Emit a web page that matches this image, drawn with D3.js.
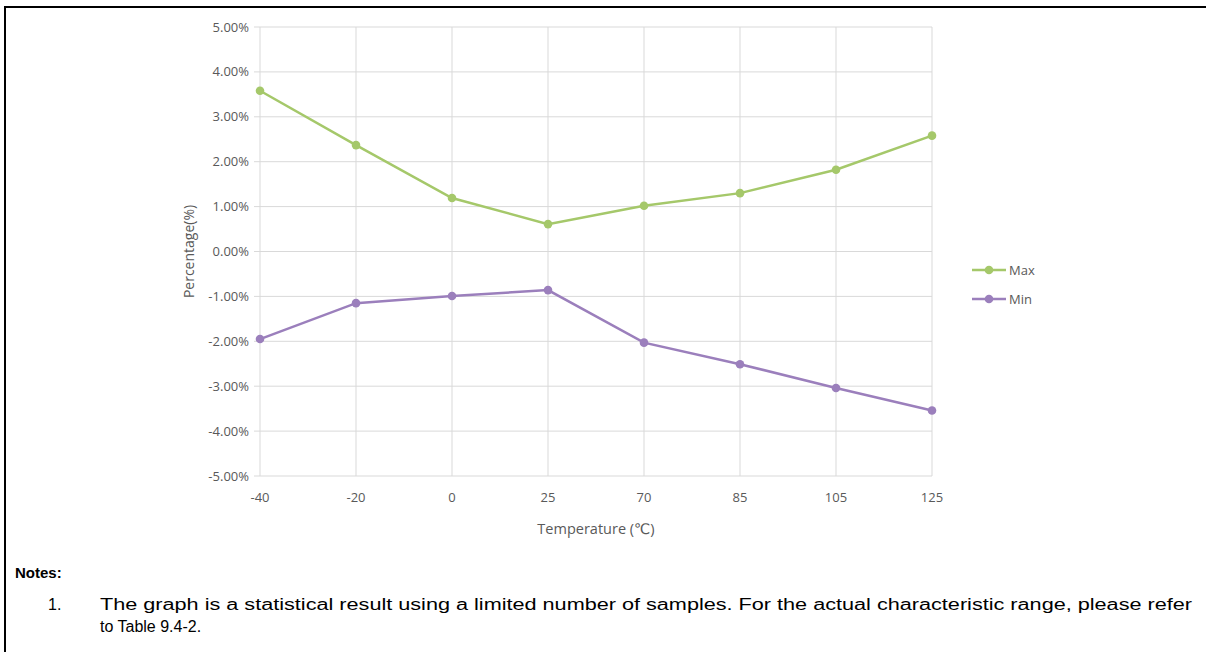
<!DOCTYPE html>
<html>
<head>
<meta charset="utf-8">
<script src="https://cdn.jsdelivr.net/npm/d3@7"></script>
<style>
    body { margin: 0; background: #fff; }
    svg { display: block; }
</style>
</head>
<body>
<script>
var temperatures = ["-40", "-20", "0", "25", "70", "85", "105", "125"];
var maxValues = [3.58, 2.37, 1.19, 0.61, 1.02, 1.30, 1.82, 2.58];
var minValues = [-1.95, -1.15, -0.99, -0.86, -2.03, -2.51, -3.04, -3.54];
var yTicks = [5, 4, 3, 2, 1, 0, -1, -2, -3, -4, -5];
var seriesNames = ["Max", "Min"];
var seriesColors = ["#a5c86a", "#9b7fbc"];

var width = 1206, height = 652;
var font = "'Open Sans', 'DejaVu Sans', sans-serif";

var svg = d3.select("body").append("svg")
    .attr("width", width)
    .attr("height", height);

// outer frame (top and left edges only)
svg.append("line").attr("x1", 4).attr("y1", 7).attr("x2", width).attr("y2", 7)
    .style("stroke", "#000").style("stroke-width", 2);
svg.append("line").attr("x1", 5).attr("y1", 6).attr("x2", 5).attr("y2", height)
    .style("stroke", "#000").style("stroke-width", 2);

var x = d3.scalePoint().domain(temperatures).range([260, 932]);
var y = d3.scaleLinear().domain([-5, 5]).range([476, 27]);

var g = svg.append("g");

// horizontal gridlines
g.selectAll("line.hgrid")
    .data(yTicks)
    .enter().append("line")
    .attr("class", "hgrid")
    .attr("x1", 254).attr("x2", 932)
    .attr("y1", function(d) { return y(d); })
    .attr("y2", function(d) { return y(d); })
    .style("stroke", "#d9d9d9").style("stroke-width", 1);

// vertical gridlines
g.selectAll("line.vgrid")
    .data(temperatures)
    .enter().append("line")
    .attr("class", "vgrid")
    .attr("x1", function(d) { return x(d); })
    .attr("x2", function(d) { return x(d); })
    .attr("y1", y(5)).attr("y2", y(-5))
    .style("stroke", "#d9d9d9").style("stroke-width", 1);

// y axis labels (plain hyphen like the original)
g.selectAll("text.ylab")
    .data(yTicks)
    .enter().append("text")
    .attr("class", "ylab")
    .attr("x", 249)
    .attr("y", function(d) { return y(d) + 4.5; })
    .attr("text-anchor", "end")
    .style("font-family", font).style("font-size", "13px").style("fill", "#595959")
    .text(function(d) { return (d < 0 ? "-" : "") + Math.abs(d).toFixed(2) + "%"; });

// x axis labels
g.selectAll("text.xlab")
    .data(temperatures)
    .enter().append("text")
    .attr("class", "xlab")
    .attr("x", function(d) { return x(d); })
    .attr("y", 502)
    .attr("text-anchor", "middle")
    .style("font-family", font).style("font-size", "13px").style("fill", "#595959")
    .text(function(d) { return d; });

// axis titles
svg.append("text")
    .attr("x", 596).attr("y", 534)
    .attr("text-anchor", "middle")
    .style("font-family", font).style("font-size", "14.5px").style("fill", "#595959")
    .text("Temperature (℃)");

svg.append("text")
    .attr("transform", "translate(194," + y(0) + ") rotate(-90)")
    .attr("text-anchor", "middle")
    .style("font-family", font).style("font-size", "14px").style("fill", "#595959")
    .text("Percentage(%)");

// series
var series = [maxValues, minValues];
var line = d3.line()
    .x(function(d, i) { return x(temperatures[i]); })
    .y(function(d) { return y(d); });

series.forEach(function(values, s) {
    g.append("path")
        .datum(values)
        .attr("d", line)
        .style("fill", "none")
        .style("stroke", seriesColors[s])
        .style("stroke-width", 2.5);

    g.selectAll("circle.s" + s)
        .data(values)
        .enter().append("circle")
        .attr("class", "s" + s)
        .attr("r", 4.3)
        .attr("cx", function(d, i) { return x(temperatures[i]); })
        .attr("cy", function(d) { return y(d); })
        .style("fill", seriesColors[s]);
});

// legend
var legend = svg.selectAll("g.legend")
    .data(seriesNames)
    .enter().append("g")
    .attr("class", "legend")
    .attr("transform", function(d, i) { return "translate(972," + (270 + i * 29) + ")"; });

legend.append("line")
    .attr("x1", 0).attr("x2", 34).attr("y1", 0).attr("y2", 0)
    .style("stroke", function(d, i) { return seriesColors[i]; })
    .style("stroke-width", 2.5);
legend.append("circle")
    .attr("cx", 17).attr("cy", 0).attr("r", 4.3)
    .style("fill", function(d, i) { return seriesColors[i]; });
legend.append("text")
    .attr("x", 37).attr("y", 4.5)
    .style("font-family", font).style("font-size", "13px").style("fill", "#595959")
    .text(function(d) { return d; });

// notes
var noteFont = "'Liberation Sans', Arial, sans-serif";
svg.append("text")
    .attr("x", 15).attr("y", 578)
    .style("font-family", noteFont).style("font-size", "15px").style("font-weight", "bold")
    .style("fill", "#000")
    .text("Notes:");
svg.append("text")
    .attr("x", 48).attr("y", 610)
    .style("font-family", noteFont).style("font-size", "16px").style("fill", "#000")
    .text("1.");

// first line runs out to the right margin
svg.append("text")
    .attr("x", 100).attr("y", 610)
    .attr("textLength", 1092)
    .attr("lengthAdjust", "spacingAndGlyphs")
    .style("font-family", noteFont).style("font-size", "16px").style("fill", "#000")
    .text("The graph is a statistical result using a limited number of samples. For the actual characteristic range, please refer");

svg.append("text")
    .attr("x", 100).attr("y", 632)
    .style("font-family", noteFont).style("font-size", "16px").style("fill", "#000")
    .text("to Table 9.4-2.");
</script>
</body>
</html>
